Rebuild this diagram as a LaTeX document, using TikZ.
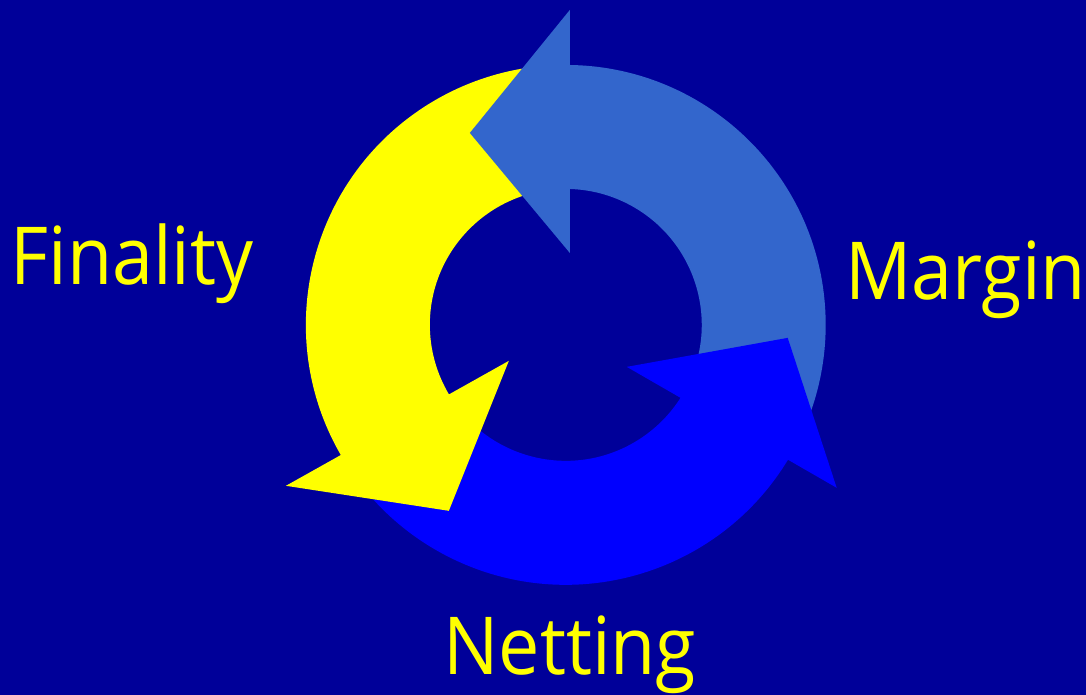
\documentclass[tikz,border=0pt]{standalone}
\usepackage{fontspec}
\setmainfont{Open Sans}[FakeStretch=0.92]
\definecolor{slide}{HTML}{000099}
\definecolor{ringlight}{HTML}{3366CC}
\definecolor{ringblue}{HTML}{0000FF}
\definecolor{ringyellow}{HTML}{FFFF00}
% body of one arrow: colour, from angle, to angle
\newcommand{\ringpart}[3]{%
  \fill[#1] (#2:136pt) arc[start angle=#2, end angle=#3, radius=136pt]
    -- (#3:260pt) arc[start angle=#3, end angle=#2, radius=260pt] -- cycle;}

\begin{document}
\begin{tikzpicture}[x=1pt,y=1pt,
    word/.style={text=ringyellow, font=\fontsize{80}{80}\selectfont, anchor=base, inner sep=0pt}]
    \fill [slide] (0,0) rectangle (1086,695);
    % the three bodies round the ring, each running a little under its own head
    \begin{scope}[shift={(566,370)}]
        \ringpart{ringlight}{-28}{92}
        \ringpart{ringyellow}{92}{213}
        \ringpart{ringblue}{213}{332}
    \end{scope}
    % heads on top of the next tail
    \fill [ringlight] (570,685) -- (470,562) -- (570,442) -- cycle;
    \fill [ringyellow] (286,209) -- (449,184) -- (509,334) -- cycle;
    \fill [ringblue] (627,328) -- (788,357) -- (837,207) -- cycle;
    \node [word] (finality) at (132,410) {Finality};
    \node [word] (margin) at (966,395) {Margin};
    \node [word] (netting) at (570,20) {Netting};
\end{tikzpicture}
\end{document}
